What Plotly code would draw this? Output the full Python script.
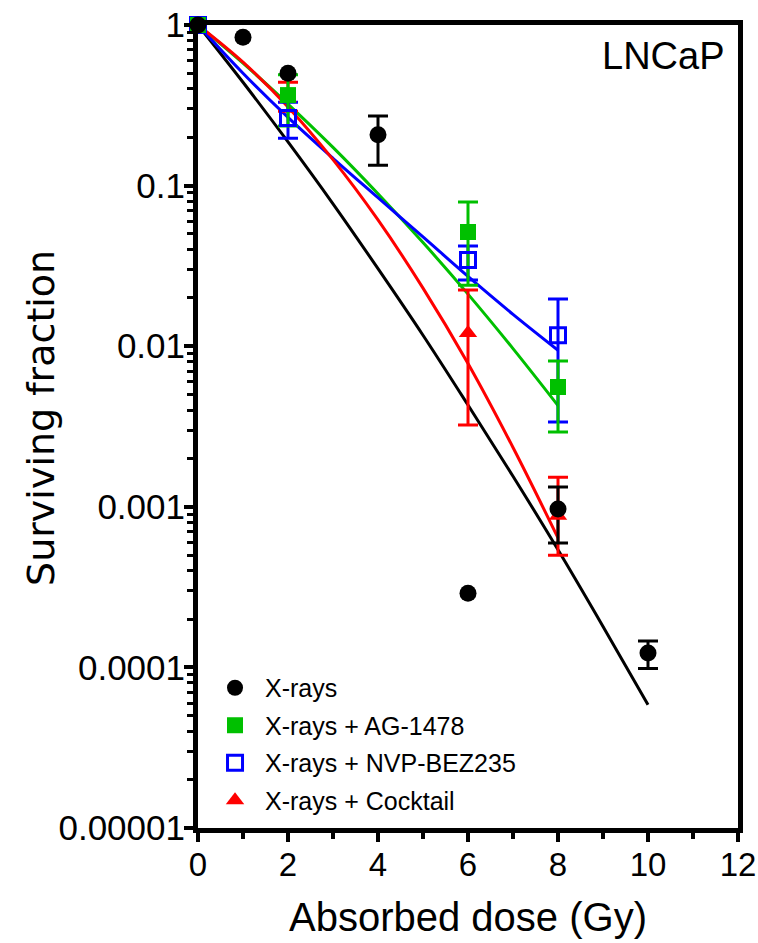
import plotly.graph_objects as go

# measured points (dose in Gy, surviving fraction), error bars as upper / lower bounds
xr_dose = [0, 1, 2, 4, 6, 8, 10]
xr_sf = [1, 0.84, 0.50, 0.207, 0.00029, 0.00097, 0.000123]
xr_hi = [None, None, None, 0.271, None, 0.00133, 0.000146]
xr_lo = [None, None, None, 0.134, None, 0.000595, 0.0000985]

ag_dose = [0, 2, 6, 8]
ag_sf = [1, 0.366, 0.0514, 0.00557]
ag_hi = [None, 0.49, 0.079, 0.0081]
ag_lo = [None, 0.235, 0.024, 0.00292]

nvp_dose = [0, 2, 6, 8]
nvp_sf = [1, 0.264, 0.0344, 0.0117]
nvp_hi = [None, 0.33, 0.042, 0.0197]
nvp_lo = [None, 0.197, 0.0258, 0.00337]

ck_dose = [0, 2, 6, 8]
ck_sf = [1, 0.35, 0.0121, 0.00088]
ck_hi = [None, 0.44, 0.0224, 0.00153]
ck_lo = [None, 0.29, 0.00323, 0.0005]

# fitted curves at whole doses
fit_dose = [0, 1, 2, 3, 4, 5, 6, 7, 8, 9, 10]
xr_fit = [1, 0.44, 0.187, 0.077, 0.0304, 0.0117, 0.0043, 0.00155, 0.00054, 0.00018, 0.0000585]
fit_dose8 = [0, 1, 2, 3, 4, 5, 6, 7, 8]
ag_fit = [1, 0.579, 0.322, 0.173, 0.089, 0.0442, 0.0211, 0.00966, 0.00427]
nvp_fit = [1, 0.501, 0.266, 0.148, 0.0841, 0.0479, 0.0272, 0.0158, 0.00944]
ck_fit = [1, 0.587, 0.309, 0.145, 0.0611, 0.023, 0.0078, 0.00234, 0.00064]

BLACK = "#000000"
GREEN = "#00c000"
BLUE = "#0000ff"
RED = "#ff0000"
FONT = "Liberation Sans, Arial, sans-serif"

fig = go.Figure()

for xs, ys, c in [(fit_dose, xr_fit, BLACK), (fit_dose8, ag_fit, GREEN),
                  (fit_dose8, nvp_fit, BLUE), (fit_dose8, ck_fit, RED)]:
    fig.add_trace(go.Scatter(x=xs, y=ys, mode="lines", showlegend=False,
                             line=dict(color=c, width=3, shape="spline", smoothing=1.0),
                             hoverinfo="skip"))

series = [
    ("X-rays + Cocktail", ck_dose, ck_sf, ck_hi, ck_lo, RED,
     dict(symbol="triangle-up", size=16, color=RED), 4),
    ("X-rays + NVP-BEZ235", nvp_dose, nvp_sf, nvp_hi, nvp_lo, BLUE,
     dict(symbol="square-open", size=15, color=BLUE, line=dict(width=3, color=BLUE)), 3),
    ("X-rays + AG-1478", ag_dose, ag_sf, ag_hi, ag_lo, GREEN,
     dict(symbol="square", size=16, color=GREEN), 2),
    ("X-rays", xr_dose, xr_sf, xr_hi, xr_lo, BLACK,
     dict(symbol="circle", size=17, color=BLACK), 1),
]

# error bars only where a bar was drawn (no empty caps on the other points)
for name, xs, ys, hi, lo, c, mk, rank in series:
    idx = [i for i, h in enumerate(hi) if h is not None]
    fig.add_trace(go.Scatter(
        x=[xs[i] for i in idx], y=[ys[i] for i in idx], mode="markers",
        marker=dict(size=1, color="rgba(0,0,0,0)"), showlegend=False, hoverinfo="skip",
        cliponaxis=False,
        error_y=dict(type="data", symmetric=False,
                     array=[hi[i] - ys[i] for i in idx],
                     arrayminus=[ys[i] - lo[i] for i in idx],
                     color=c, thickness=3, width=10)))

for name, xs, ys, hi, lo, c, mk, rank in series:
    fig.add_trace(go.Scatter(x=xs, y=ys, mode="markers", name=name, marker=mk,
                             legendrank=rank, legendgroup=name, cliponaxis=False))

ytick_vals = [1, 0.1, 0.01, 0.001, 0.0001, 0.00001]
ytick_text = ["1", "0.1", "0.01", "0.001", "0.0001", "0.00001"]
yminor = [m * 10 ** k for k in range(-5, 0) for m in range(2, 10)]

fig.add_annotation(x=0.98, y=0.961, xref="paper", yref="paper", text="LNCaP",
                   showarrow=False, xanchor="right", yanchor="middle",
                   font=dict(size=38, color="black", family=FONT))
fig.add_annotation(x=0.5, y=-0.111, xref="paper", yref="paper", text="Absorbed dose (Gy)",
                   showarrow=False, xanchor="center", yanchor="middle",
                   font=dict(size=40, color="black", family=FONT))
fig.add_annotation(x=-0.292, y=0.511, xref="paper", yref="paper", text="Surviving fraction",
                   showarrow=False, xanchor="center", yanchor="middle", textangle=-90,
                   font=dict(size=38, color="black", family="DejaVu Sans, " + FONT))

fig.update_layout(
    width=758, height=943,
    margin=dict(l=198, r=20, t=25, b=115, autoexpand=False),
    plot_bgcolor="white", paper_bgcolor="white",
    font=dict(family=FONT, color="black"),
    showlegend=True,
    legend=dict(x=0.013, y=0.203, xanchor="left", yanchor="top",
                font=dict(size=25, family=FONT), bgcolor="rgba(0,0,0,0)",
                tracegroupgap=2, itemwidth=50),
    xaxis=dict(range=[0, 12], tickvals=[0, 2, 4, 6, 8, 10, 12],
               showline=True, linewidth=5, linecolor="black", mirror=True,
               ticks="outside", ticklen=9, tickwidth=4, tickcolor="black",
               minor=dict(tickvals=[1, 3, 5, 7, 9, 11], ticks="outside",
                          ticklen=6, tickwidth=4, tickcolor="black"),
               showgrid=False, zeroline=False, ticklabelstandoff=-6,
               ticklabeloverflow="allow", automargin=False,
               tickfont=dict(size=33, family=FONT)),
    yaxis=dict(type="log", range=[-5, 0], tickvals=ytick_vals, ticktext=ytick_text,
               showline=True, linewidth=5, linecolor="black", mirror=True,
               ticks="outside", ticklen=9, tickwidth=4, tickcolor="black",
               minor=dict(tickvals=yminor, ticks="outside",
                          ticklen=6, tickwidth=3, tickcolor="black"),
               showgrid=False, zeroline=False, ticklabelstandoff=-8,
               ticklabeloverflow="allow", automargin=False,
               tickfont=dict(size=35, family=FONT)),
)

# drop the browser's default 8px body margin so the figure fills the window
fig.write_html("out.html", config={"displayModeBar": False},
               post_script="document.body.style.margin='0px';")
